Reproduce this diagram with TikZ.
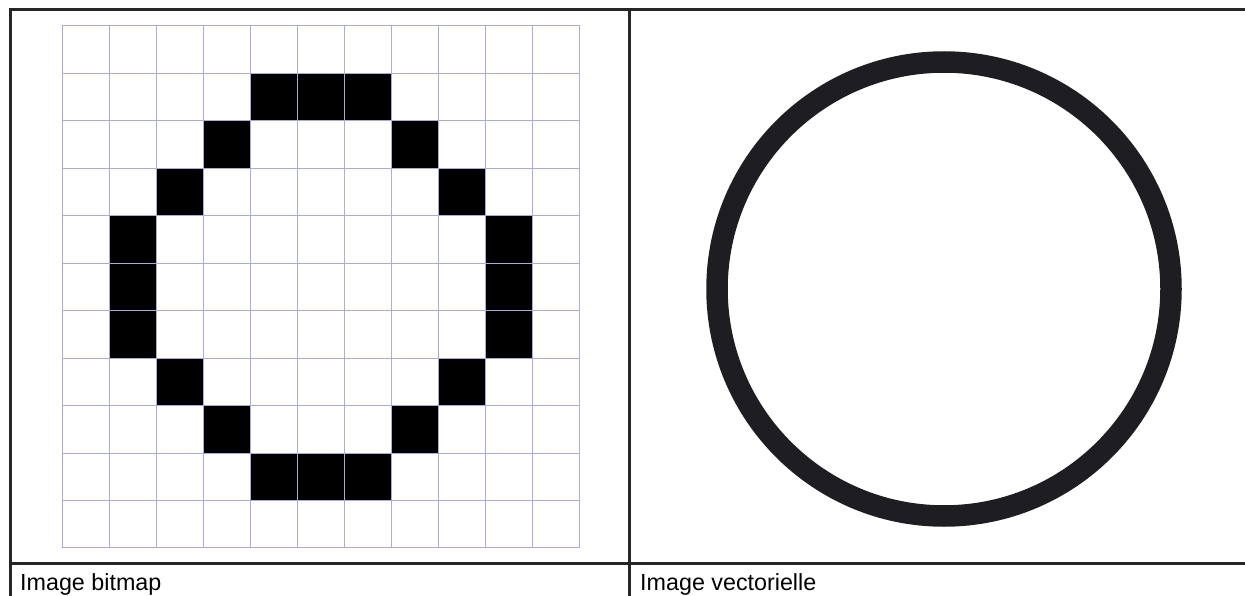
\documentclass[tikz,border=0pt]{standalone}
\usepackage{fontspec}
\setmainfont{Liberation Sans}
\usetikzlibrary{positioning}

\definecolor{gridblue}{RGB}{170,172,215}
\definecolor{inkdark}{RGB}{30,30,34}

\begin{document}
\begin{tikzpicture}[x=1pt, y=-1pt,
  frame/.style={line width=3pt, draw=black!85},
  gridline/.style={line width=1pt, draw=gridblue},
  pixel/.style={fill=black},
  vring/.style={line width=21.5pt, draw=inkdark},
  caption/.style={anchor=base west, inner sep=0pt, font=\fontsize{23.3}{27}\selectfont},
]

\useasboundingbox (0,0) rectangle (1245,596);

% === Bitmap pixels ===
\foreach \c/\r in {4/1,5/1,6/1,3/2,7/2,2/3,8/3,1/4,9/4,1/5,9/5,1/6,9/6,2/7,8/7,3/8,7/8,4/9,5/9,6/9}
  \fill[pixel] ({62+\c*47.09},{26+\r*47.45}) rectangle ++(47.09,47.45);

% === Grid on top ===
\foreach \i in {0,...,11} {
  \draw[gridline] ({62+\i*47.09},26) -- ({62+\i*47.09},548);
  \draw[gridline] (62,{26+\i*47.45}) -- (580,{26+\i*47.45});
}

% === Vector circle ===
\coordinate (ctr) at (944,289);
\draw[vring] (ctr) circle[radius=227pt];

% === Table frame ===
\draw[frame] (10,600) -- (10,10) -- (1250,10);
\draw[frame] (629,10) -- (629,600);
\draw[frame] (10,563) -- (1250,563);

% === Captions ===
\node[caption] (capbmp) at (20,590) {Image bitmap};
\node[caption] (capvec) at (640,590) {Image vectorielle};

\end{tikzpicture}
\end{document}
